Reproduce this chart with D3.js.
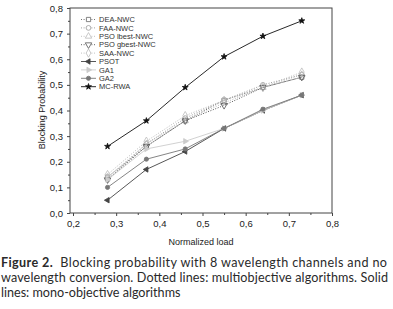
<!DOCTYPE html>
<html>
<head>
<meta charset="utf-8">
<script src="https://cdn.jsdelivr.net/npm/d3@7"></script>
<style>
  body { margin: 0; background: #fff; }
  svg { display: block; }
</style>
</head>
<body>
<svg id="chart" width="393" height="309"></svg>
<script>
// Data
const loads = [0.28, 0.37, 0.46, 0.55, 0.64, 0.73];
const deaNwc   = [0.14, 0.26, 0.36, 0.44, 0.49, 0.53];
const faaNwc   = [0.13, 0.27, 0.37, 0.44, 0.50, 0.54];
const psoLbest = [0.14, 0.27, 0.36, 0.43, 0.49, 0.54];
const psoGbest = [0.13, 0.26, 0.36, 0.42, 0.49, 0.53];
const saaNwc   = [0.15, 0.28, 0.38, 0.44, 0.49, 0.55];
const psot     = [0.05, 0.17, 0.24, 0.33, 0.40, 0.46];
const ga1      = [0.13, 0.25, 0.28, 0.33, 0.40, 0.46];
const ga2      = [0.10, 0.21, 0.25, 0.33, 0.405, 0.46];
const mcRwa    = [0.26, 0.36, 0.49, 0.61, 0.69, 0.75];

const xTicks = [0.2, 0.3, 0.4, 0.5, 0.6, 0.7, 0.8];
const yTicks = [0, 0.1, 0.2, 0.3, 0.4, 0.5, 0.6, 0.7, 0.8];

const captionLines = [
  "Blocking probability with 8 wavelength channels and no",
  "wavelength conversion. Dotted lines: multiobjective algorithms. Solid",
  "lines: mono-objective algorithms"
];

const series = [
  { name: "DEA-NWC", values: deaNwc, color: "#666", dotted: true, sym: d3.symbolSquare, fill: false, size: 18 },
  { name: "FAA-NWC", values: faaNwc, color: "#999", dotted: true, sym: d3.symbolCircle, fill: false, size: 18 },
  { name: "PSO lbest-NWC", values: psoLbest, color: "#bbb", dotted: true, sym: d3.symbolTriangle, fill: false, size: 18 },
  { name: "PSO gbest-NWC", values: psoGbest, color: "#555", dotted: true, sym: "tri-down", fill: false, size: 18 },
  { name: "SAA-NWC", values: saaNwc, color: "#bbb", dotted: true, sym: d3.symbolDiamond, fill: false, size: 20 },
  { name: "PSOT", values: psot, color: "#444", dotted: false, sym: "tri-left", fill: true, size: 13 },
  { name: "GA1", values: ga1, color: "#ccc", dotted: false, sym: "tri-right", fill: true, size: 13 },
  { name: "GA2", values: ga2, color: "#777", dotted: false, sym: d3.symbolCircle, fill: true, size: 14 },
  { name: "MC-RWA", values: mcRwa, color: "#111", dotted: false, sym: d3.symbolStar, fill: true, size: 11 }
];

const svg = d3.select("#chart");
const font = "'Liberation Sans', Arial, sans-serif";

// plot frame
const frame = { left: 70, right: 332, top: 8, bottom: 213 };
const x = d3.scaleLinear().domain([0.2, 0.8]).range([73, 332]);
const y = d3.scaleLinear().domain([0, 0.8]).range([213, 8]);

svg.append("rect")
  .attr("x", frame.left).attr("y", frame.top)
  .attr("width", frame.right - frame.left).attr("height", frame.bottom - frame.top)
  .attr("fill", "none").attr("stroke", "#444").attr("stroke-width", 1);

// bottom axis with minor ticks
const gx = svg.append("g").attr("transform", `translate(0,${frame.bottom})`);
gx.call(d3.axisBottom(x).tickValues(d3.range(0.25, 0.8, 0.1)).tickSize(2).tickFormat(""));
gx.call(g => g.selectAll("path").remove());
const gx2 = svg.append("g").attr("transform", `translate(0,${frame.bottom})`);
gx2.call(d3.axisBottom(x).tickValues(xTicks).tickSize(3).tickPadding(4)
  .tickFormat(d => d3.format(".1f")(d).replace(".", ",")));
gx2.select("path").remove();

const gy = svg.append("g").attr("transform", `translate(${frame.left},0)`);
gy.call(d3.axisLeft(y).tickValues(d3.range(0.05, 0.8, 0.1)).tickSize(2).tickFormat(""));
gy.select("path").remove();
const gy2 = svg.append("g").attr("transform", `translate(${frame.left},0)`);
gy2.call(d3.axisLeft(y).tickValues(yTicks).tickSize(3).tickPadding(4)
  .tickFormat(d => d3.format(".1f")(d).replace(".", ",")));
gy2.select("path").remove();

svg.selectAll(".tick line").attr("stroke", "#444");
svg.selectAll(".tick text").attr("font-family", font).attr("font-size", 9.5).attr("fill", "#222");

// axis titles
svg.append("text")
  .attr("x", 201).attr("y", 245)
  .attr("text-anchor", "middle")
  .attr("font-family", font).attr("font-size", 9).attr("fill", "#222")
  .text("Normalized load");
svg.append("text")
  .attr("transform", "translate(45,110) rotate(-90)")
  .attr("text-anchor", "middle")
  .attr("font-family", font).attr("font-size", 9).attr("fill", "#222")
  .text("Blocking Probability");

// symbol path generator
function symbolPath(s) {
  if (s.sym === "tri-down") return { d: d3.symbol(d3.symbolTriangle, s.size)(), rot: 180 };
  if (s.sym === "tri-left") return { d: d3.symbol(d3.symbolTriangle, s.size)(), rot: -90 };
  if (s.sym === "tri-right") return { d: d3.symbol(d3.symbolTriangle, s.size)(), rot: 90 };
  return { d: d3.symbol(s.sym, s.size)(), rot: 0 };
}

const line = d3.line().x((d, i) => x(loads[i])).y(d => y(d));

// draw series
series.forEach(s => {
  svg.append("path")
    .datum(s.values)
    .attr("d", line)
    .attr("fill", "none")
    .attr("stroke", s.color)
    .attr("stroke-width", s.dotted ? 1 : 0.9)
    .attr("stroke-dasharray", s.dotted ? "1,1.6" : null);
  const sp = symbolPath(s);
  svg.append("g").selectAll("path")
    .data(s.values)
    .join("path")
    .attr("transform", (d, i) => `translate(${x(loads[i])},${y(d)}) rotate(${sp.rot})`)
    .attr("d", sp.d)
    .attr("fill", s.fill ? s.color : "#fff")
    .attr("fill-opacity", s.fill ? 1 : 0)
    .attr("stroke", s.color)
    .attr("stroke-width", 0.8);
});

// legend
const leg = svg.append("g");
series.forEach((s, i) => {
  const ly = 19.5 + i * 8.4;
  leg.append("line")
    .attr("x1", 81).attr("x2", 96).attr("y1", ly).attr("y2", ly)
    .attr("stroke", s.color).attr("stroke-width", 0.9)
    .attr("stroke-dasharray", s.dotted ? "1,1.6" : null);
  const sp = symbolPath(s);
  leg.append("path")
    .attr("transform", `translate(88.5,${ly}) rotate(${sp.rot})`)
    .attr("d", sp.d)
    .attr("fill", s.fill ? s.color : "#fff")
    .attr("stroke", s.color).attr("stroke-width", 0.8);
  leg.append("text")
    .attr("x", 99).attr("y", ly + 2.6)
    .attr("font-family", font).attr("font-size", 7.5).attr("fill", "#333")
    .text(s.name);
});

// caption
const capFont = "Lato, 'Open Sans', sans-serif";
const cap = svg.append("g").attr("font-family", capFont).attr("font-size", 12.6).attr("fill", "#2a2a2a");
const first = cap.append("text").attr("x", 1).attr("y", 267)
  .attr("textLength", 386).attr("lengthAdjust", "spacing");
first.append("tspan").attr("font-weight", "bold").text("Figure 2.");
first.append("tspan").text("\u00a0 " + captionLines[0]);
cap.append("text").attr("x", 1).attr("y", 282)
  .attr("textLength", 387).attr("lengthAdjust", "spacing")
  .text(captionLines[1]);
cap.append("text").attr("x", 1).attr("y", 297)
  .text(captionLines[2]);
</script>
</body>
</html>
